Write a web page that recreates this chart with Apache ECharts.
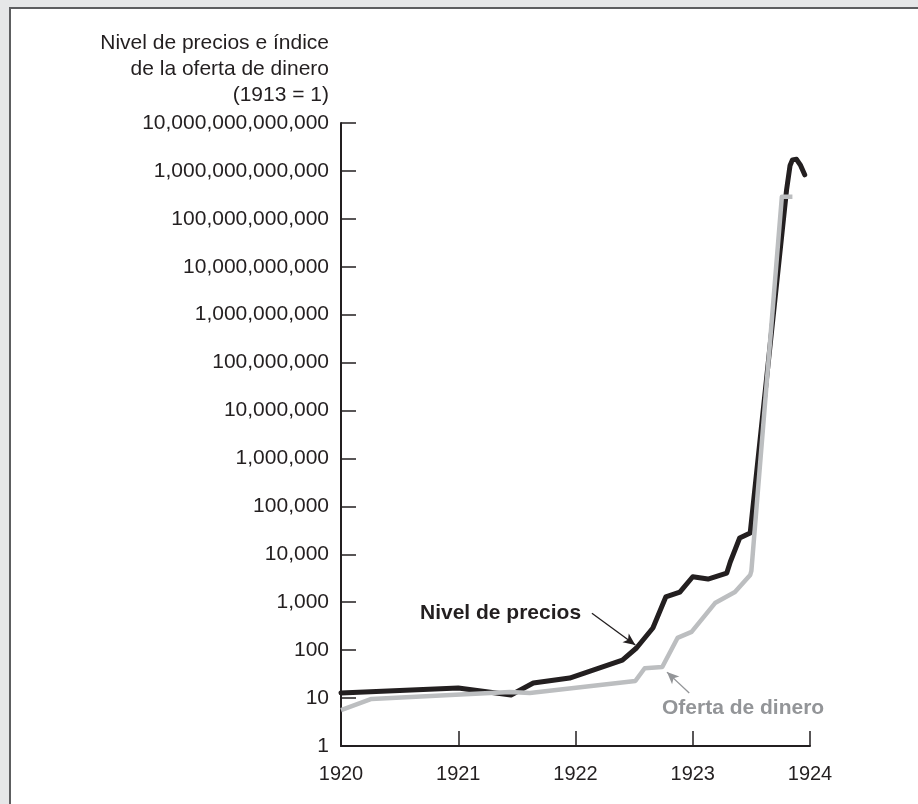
<!DOCTYPE html>
<html>
<head>
<meta charset="utf-8">
<script src="https://cdn.jsdelivr.net/npm/echarts@6/dist/echarts.min.js"></script>
<style>
html,body{margin:0;padding:0;width:918px;height:804px;background:#e6e7e8;overflow:hidden;}
#frame{position:absolute;left:9px;top:7px;width:930px;height:820px;background:#fff;border-left:2px solid #5d5e60;border-top:2px solid #5d5e60;box-sizing:border-box;}
#chart{position:absolute;left:0;top:0;width:918px;height:804px;}
</style>
</head>
<body>
<div id="frame"></div>
<div id="chart"></div>
<script>
// Data (time in fractional years, values as index 1913 = 1)
const priceDates  = [1920.00, 1921.00, 1921.45, 1921.64, 1921.95, 1922.40, 1922.52, 1922.66, 1922.77, 1922.89, 1923.00, 1923.13, 1923.29, 1923.32, 1923.40, 1923.49, 1923.80, 1923.83, 1923.85, 1923.865, 1923.885, 1923.92, 1923.955];
const priceValues = [12.8, 16.3, 11.6, 20.6, 26.2, 62, 111, 290, 1290, 1630, 3400, 3050, 4070, 6900, 21900, 27900, 4.0e11, 1.3e12, 1.7e12, 1.86e12, 1.75e12, 1.3e12, 8.3e11];
const moneyDates  = [1920.00, 1920.26, 1921.44, 1921.61, 1922.51, 1922.59, 1922.74, 1922.87, 1922.99, 1923.19, 1923.36, 1923.49, 1923.50, 1923.76, 1923.85];
const moneyValues = [5.6, 9.6, 13.4, 12.8, 22.7, 42, 44.5, 180, 240, 960, 1630, 3700, 4500, 2.9e11, 2.9e11];
const xTicks = [1920, 1921, 1922, 1923, 1924];
const titleLines = ['Nivel de precios e índice', 'de la oferta de dinero', '(1913 = 1)'];
const priceLabel = 'Nivel de precios';
const moneyLabel = 'Oferta de dinero';

const FONT = 'Liberation Sans, Arial, Helvetica, sans-serif';
const chart = echarts.init(document.getElementById('chart'), null, {renderer: 'canvas'});

const pricePairs = priceDates.map((d, i) => [d, priceValues[i]]);
const moneyPairs = moneyDates.map((d, i) => [d, moneyValues[i]]);

chart.setOption({
  animation: false,
  backgroundColor: 'transparent',
  grid: {left: 341, right: 108, top: 123, bottom: 58, containLabel: false},
  xAxis: {
    type: 'value', min: xTicks[0], max: xTicks[xTicks.length - 1], interval: 1,
    axisLine: {lineStyle: {color: '#231f20', width: 2}},
    axisTick: {inside: true, length: 15, lineStyle: {color: '#231f20', width: 1.5}},
    axisLabel: {color: '#231f20', fontSize: 20, fontFamily: FONT, margin: 18, formatter: v => String(v)},
    splitLine: {show: false}
  },
  yAxis: {
    type: 'log', logBase: 10, min: 1, max: 1e13, interval: 1,
    axisLine: {show: true, lineStyle: {color: '#231f20', width: 2}},
    axisTick: {show: true, inside: true, length: 15, lineStyle: {color: '#231f20', width: 1.5}},
    axisLabel: {color: '#231f20', fontSize: 21, fontFamily: FONT, margin: 12,
      formatter: v => Math.round(v).toLocaleString('en-US')},
    splitLine: {show: false},
    minorTick: {show: false}
  },
  graphic: [
    {type: 'text', right: 918 - 329, top: 30, style: {text: titleLines.join('\n'), font: '21px ' + FONT, fill: '#231f20', textAlign: 'right', lineHeight: 26}},
    {type: 'text', left: 420, top: 603, style: {text: priceLabel, font: 'bold 21px ' + FONT, fill: '#231f20'}},
    {type: 'text', left: 662, top: 698, style: {text: moneyLabel, font: 'bold 21px ' + FONT, fill: '#939598'}}
  ],
  series: [
    {
      type: 'line', data: pricePairs, showSymbol: false, z: 3,
      lineStyle: {color: '#231f20', width: 5, join: 'round', cap: 'round'},
      markLine: {
        silent: true, symbol: ['none', 'arrow'], symbolSize: [8, 12], label: {show: false},
        lineStyle: {color: '#231f20', width: 1.3, type: 'solid'},
        data: [[{coord: [1922.14, 590]}, {coord: [1922.51, 128]}]]
      }
    },
    {
      type: 'line', data: moneyPairs, showSymbol: false, z: 4,
      lineStyle: {color: '#bcbec0', width: 4.5, join: 'round', cap: 'butt'},
      markLine: {
        silent: true, symbol: ['none', 'arrow'], symbolSize: [8, 12], label: {show: false},
        lineStyle: {color: '#939598', width: 1.3, type: 'solid'},
        data: [[{coord: [1922.97, 12.8]}, {coord: [1922.78, 34.8]}]]
      }
    }
  ]
});
</script>
</body>
</html>
